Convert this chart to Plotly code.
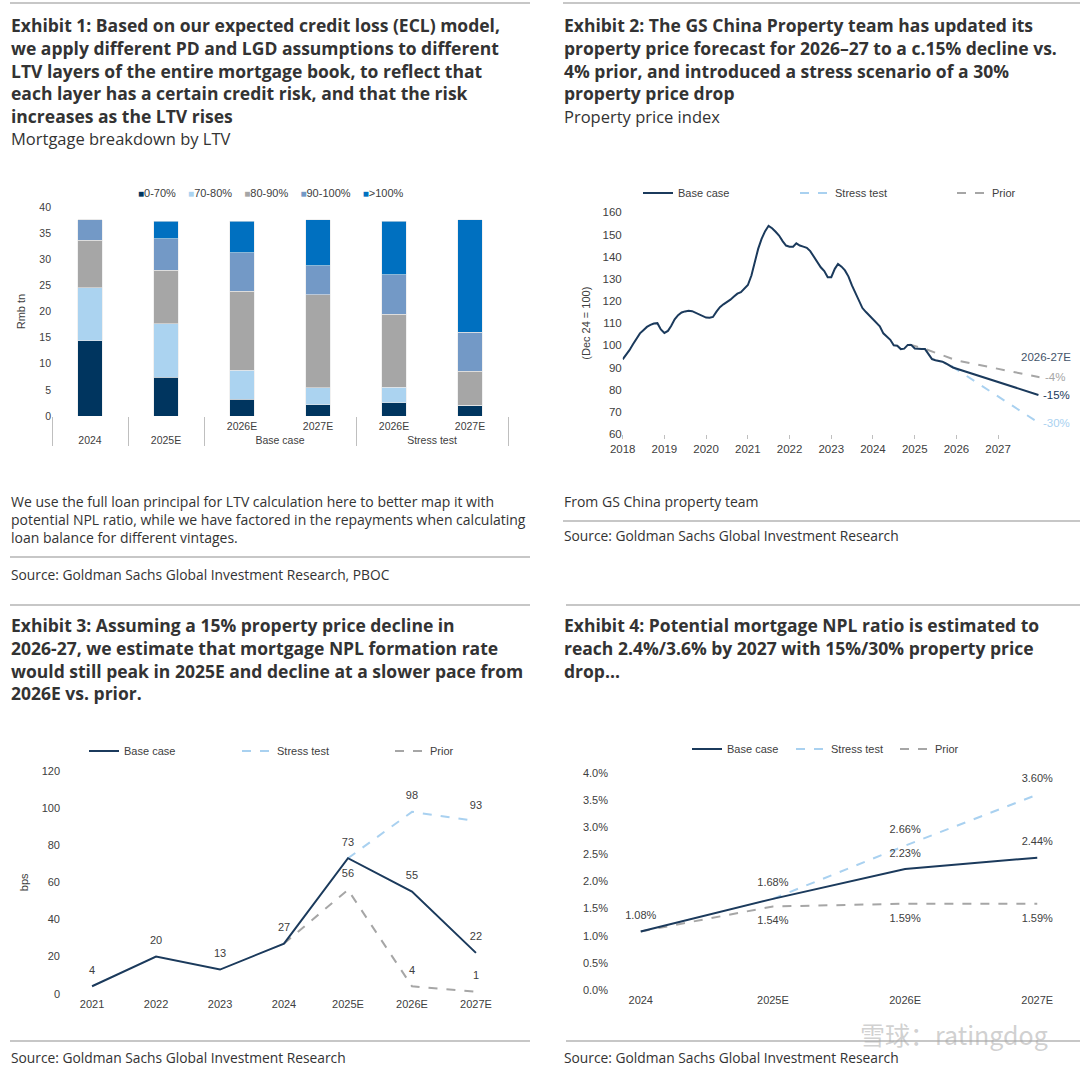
import plotly.graph_objects as go
import pandas as pd

W, H = 1080, 1072

# ---------------- Exhibit 1: mortgage breakdown by LTV (Rmb tn) ----------------
ltv_group = ["2024", "2025E", "Base case", "Base case", "Stress test", "Stress test"]
ltv_year = [" ", " ", "2026E", "2027E", "2026E", "2027E"]
ltv_bands = ["0-70%", "70-80%", "80-90%", "90-100%", ">100%"]
ltv_0_70 = [14.4, 7.4, 3.2, 2.2, 2.55, 2.1]
ltv_70_80 = [10.1, 10.3, 5.6, 3.2, 3.0, 0.0]
ltv_80_90 = [9.1, 10.2, 15.1, 17.8, 13.95, 6.5]
ltv_90_100 = [4.0, 6.0, 7.3, 5.6, 7.5, 7.4]
ltv_over_100 = [0.0, 3.4, 6.1, 8.8, 10.3, 21.6]

# ---------------- Exhibit 2: property price index (Dec 24 = 100) ----------------
ppi_start = "2018-01-01"
ppi_hist = [
    93.7, 95.6, 97.8, 100.5, 103.0, 105.4, 106.8, 108.3, 109.2, 109.8, 110.0, 107.2,   # 2018
    105.6, 106.5, 108.7, 111.7, 113.6, 114.8, 115.3, 115.6, 115.4, 114.6, 113.8, 113.0,  # 2019
    112.5, 112.4, 112.8, 115.2, 117.2, 118.5, 119.4, 120.6, 122.0, 123.3, 124.0, 125.7,  # 2020
    127.2, 131.5, 137.5, 143.5, 148.0, 151.5, 153.9, 152.8, 151.2, 149.5, 147.0, 145.0,  # 2021
    144.5, 144.5, 146.0, 145.0, 144.5, 144.0, 142.5, 140.0, 138.0, 135.2, 133.5, 130.7,  # 2022
    130.7, 134.5, 136.7, 135.5, 133.8, 131.0, 127.0, 123.5, 119.5, 116.8, 115.0, 113.3,  # 2023
    112.0, 110.2, 108.6, 105.4, 103.9, 102.5, 100.0, 99.8, 98.3, 98.5, 100.2, 100.2,     # 2024
    98.6, 98.3, 98.3, 98.3, 96.0, 93.8, 93.3, 93.0, 92.6, 91.8, 91.0, 90.0,              # 2025
]
base_fc_dates = ["2027-12-20"]
base_fc_values = [77.6]
stress_dates = ["2025-11-20", "2027-12-20"]
stress_values = [90.6, 65.1]
prior_dates = ["2024-11-15", "2025-04-01", "2026-01-01", "2027-12-31"]
prior_values = [100.4, 98.4, 93.2, 85.6]
end_labels = {"prior": "-4%", "base": "-15%", "stress": "-30%"}
period_label = "2026-27E"

# ---------------- Exhibit 3: mortgage NPL formation rate (bps) ----------------
npl_years = ["2021", "2022", "2023", "2024", "2025E", "2026E", "2027E"]
npl_base = [4, 20, 13, 27, 73, 55, 22]
npl_stress_years = ["2025E", "2026E", "2027E"]
npl_stress = [73, 98, 93]
npl_prior_years = ["2024", "2025E", "2026E", "2027E"]
npl_prior = [27, 56, 4, 1]

# ---------------- Exhibit 4: mortgage NPL ratio (%) ----------------
ratio_years = ["2024", "2025E", "2026E", "2027E"]
ratio_base = [1.08, 1.68, 2.23, 2.44]
ratio_stress_years = ["2025E", "2026E", "2027E"]
ratio_stress = [1.68, 2.66, 3.60]
ratio_prior = [1.08, 1.54, 1.59, 1.59]

# ---------------- styling ----------------
NAVY = "#1b3a5c"
LIGHT = "#a9d1f0"
GREY = "#a6a6a6"
BAR_COLORS = ["#00355f", "#abd3f0", "#a6a6a6", "#7399c6", "#0070c0"]
TXT = "#333333"
AX = "#404040"
ARIAL = "Liberation Sans, Arial, sans-serif"
HEAD = "Open Sans, Roboto, sans-serif"
LINEC = "#bfbfbf"


def px(x):
    return x / W


def py(y):
    return 1 - y / H


fig = go.Figure()

# Exhibit 1 bars
for name, vals, col in zip(ltv_bands, [ltv_0_70, ltv_70_80, ltv_80_90, ltv_90_100, ltv_over_100], BAR_COLORS):
    fig.add_trace(go.Bar(
        x=[ltv_group, ltv_year], y=vals, name=name, marker=dict(color=col, line=dict(color="#e8e8e8", width=0.6)),
        width=0.32, xaxis="x", yaxis="y", showlegend=False,
    ))

# Exhibit 2 lines
hist_dates = list(pd.date_range(ppi_start, periods=len(ppi_hist), freq="MS").strftime("%Y-%m-%d"))
base_dates = hist_dates + base_fc_dates
base_vals = ppi_hist + base_fc_values
fig.add_trace(go.Scatter(x=base_dates, y=base_vals, mode="lines", name="Base case",
                         line=dict(color=NAVY, width=2), xaxis="x2", yaxis="y2", legend="legend2", zorder=3))
fig.add_trace(go.Scatter(x=stress_dates, y=stress_values, mode="lines", name="Stress test",
                         line=dict(color=LIGHT, width=2, dash="dash"), xaxis="x2", yaxis="y2", legend="legend2", zorder=2))
fig.add_trace(go.Scatter(x=prior_dates, y=prior_values, mode="lines", name="Prior",
                         line=dict(color=GREY, width=2, dash="dash"), xaxis="x2", yaxis="y2", legend="legend2", zorder=1))

# Exhibit 3 lines (transparent markers push the value labels away from the line)
LBL = dict(family=ARIAL, size=11, color=AX)
HIDDEN = dict(size=14, color="rgba(0,0,0,0)")
fig.add_trace(go.Scatter(x=npl_years, y=npl_base, mode="lines+markers+text", name="Base case", marker=HIDDEN,
                         text=[str(v) for v in npl_base], textposition="top center", textfont=LBL,
                         line=dict(color=NAVY, width=2), xaxis="x3", yaxis="y3", legend="legend3", zorder=3))
fig.add_trace(go.Scatter(x=npl_stress_years, y=npl_stress, mode="lines+markers+text", name="Stress test", marker=HIDDEN,
                         text=[""] + [str(v) for v in npl_stress[1:]], textposition="top center", textfont=LBL,
                         line=dict(color=LIGHT, width=2, dash="dash"), xaxis="x3", yaxis="y3", legend="legend3", zorder=2))
fig.add_trace(go.Scatter(x=npl_prior_years, y=npl_prior, mode="lines+markers+text", name="Prior", marker=HIDDEN,
                         text=[""] + [str(v) for v in npl_prior[1:]], textposition="top center", textfont=LBL,
                         line=dict(color=GREY, width=2, dash="dash"), xaxis="x3", yaxis="y3", legend="legend3", zorder=1))

# Exhibit 4 lines
fig.add_trace(go.Scatter(x=ratio_years, y=ratio_base, mode="lines+markers+text", name="Base case", marker=HIDDEN,
                         text=[f"{v:.2f}%" for v in ratio_base], textposition="top center", textfont=LBL,
                         line=dict(color=NAVY, width=2), xaxis="x4", yaxis="y4", legend="legend4", zorder=3))
fig.add_trace(go.Scatter(x=ratio_stress_years, y=ratio_stress, mode="lines+markers+text", name="Stress test", marker=HIDDEN,
                         text=[""] + [f"{v:.2f}%" for v in ratio_stress[1:]], textposition="top center", textfont=LBL,
                         line=dict(color=LIGHT, width=2, dash="dash"), xaxis="x4", yaxis="y4", legend="legend4", zorder=2))
fig.add_trace(go.Scatter(x=ratio_years, y=ratio_prior, mode="lines+markers+text", name="Prior", marker=HIDDEN,
                         text=[""] + [f"{v:.2f}%" for v in ratio_prior[1:]], textposition="bottom center", textfont=LBL,
                         line=dict(color=GREY, width=2, dash="dash"), xaxis="x4", yaxis="y4", legend="legend4", zorder=1))

tickf = dict(family=ARIAL, size=11, color=AX)
tickf1 = dict(family=ARIAL, size=10.5, color=AX)
tickf2 = dict(family=ARIAL, size=11.5, color=AX)
leg_common = dict(orientation="h", yanchor="middle", xanchor="left", bgcolor="rgba(0,0,0,0)",
                  font=dict(family=ARIAL, size=11, color=AX), itemwidth=30, traceorder="normal")

fig.update_layout(
    template="none", hovermode=False,
    width=W, height=H, margin=dict(l=0, r=0, t=0, b=0, autoexpand=False),
    paper_bgcolor="white", plot_bgcolor="white", barmode="stack",
    font=dict(family=ARIAL, color=AX),
    xaxis=dict(domain=[px(52), px(508)], anchor="y", type="multicategory", showline=True, linecolor=LINEC,
               showdividers=True, dividercolor=LINEC, dividerwidth=1, tickfont=tickf1, showgrid=False,
               automargin=False, ticks=""),
    yaxis=dict(domain=[py(416), py(207)], anchor="x", range=[0, 40], dtick=5, showgrid=False, zeroline=False,
               automargin=False, ticks="", showline=False,
               tickfont=tickf1, title=dict(text="Rmb tn", font=dict(family=ARIAL, size=11, color=AX), standoff=11)),
    xaxis2=dict(domain=[px(622.7), px(1039.7)], anchor="y2", type="date", range=["2018-01-01", "2027-12-31"],
                dtick="M12", tickformat="%Y", ticks="outside", ticklen=4, tickcolor=LINEC, showline=True,
                linecolor=LINEC, showgrid=False, tickfont=tickf2, automargin=False),
    yaxis2=dict(domain=[py(434), py(212.3)], anchor="x2", range=[60, 160], dtick=10, showgrid=False,
                zeroline=False, tickfont=tickf2, automargin=False, ticks="", showline=False,
                title=dict(text="(Dec 24 = 100)", font=dict(family=ARIAL, size=11, color=AX), standoff=9)),
    xaxis3=dict(domain=[px(61), px(507)], anchor="y3", type="category", showline=True, linecolor=LINEC,
                showgrid=False, tickfont=tickf, automargin=False, ticks=""),
    yaxis3=dict(domain=[py(993.7), py(771)], anchor="x3", range=[0, 120], dtick=20, showgrid=False,
                zeroline=False, tickfont=tickf, automargin=False, ticks="", showline=False,
                title=dict(text="bps", font=dict(family=ARIAL, size=11, color=AX), standoff=10)),
    xaxis4=dict(domain=[px(609), px(1069)], anchor="y4", type="category", showline=True, linecolor=LINEC,
                showgrid=False, tickfont=tickf, automargin=False, ticks=""),
    yaxis4=dict(domain=[py(990), py(773)], anchor="x4", range=[0, 4], dtick=0.5, tickformat=".1f",
                ticksuffix="%", showgrid=False, zeroline=False, tickfont=tickf, automargin=False, ticks="",
                showline=False),
    legend2=dict(**leg_common, x=px(638), y=py(193), entrywidth=112),
    legend3=dict(**leg_common, x=px(84), y=py(751), entrywidth=108),
    legend4=dict(**leg_common, x=px(687), y=py(749), entrywidth=59),
)

# Exhibit 1 legend (compact key built from the band names and colours)
key = "\u00a0\u00a0\u00a0\u00a0".join(
    f"<span style='color:{c};font-size:10px'>■</span>{n}" for n, c in zip(ltv_bands, BAR_COLORS))
fig.add_annotation(xref="paper", yref="paper", x=px(271), y=py(193), xanchor="center", yanchor="middle",
                   text=key, showarrow=False, font=dict(family=ARIAL, size=11, color=AX))

# end labels on exhibit 2
lab_font = dict(family=ARIAL, size=11.5)
fig.add_annotation(x=prior_dates[-1], y=prior_values[-1], xref="x2", yref="y2", text=end_labels["prior"],
                   showarrow=False, xanchor="left", xshift=3, font=dict(**lab_font, color=GREY))
fig.add_annotation(x=base_dates[-1], y=base_vals[-1], xref="x2", yref="y2", text=end_labels["base"],
                   showarrow=False, xanchor="left", xshift=3, font=dict(**lab_font, color=NAVY))
fig.add_annotation(x=stress_dates[-1], y=stress_values[-1], xref="x2", yref="y2", text=end_labels["stress"],
                   showarrow=False, xanchor="left", xshift=3, font=dict(**lab_font, color=LIGHT))
fig.add_annotation(x=prior_dates[-1], y=prior_values[-1], xref="x2", yref="y2", text=period_label,
                   showarrow=False, xanchor="left", xshift=-21, yshift=20, font=dict(**lab_font, color="#44546a"))


def add_text(x, y_top, text, size, color=TXT, family=HEAD):
    fig.add_annotation(xref="paper", yref="paper", x=px(x), y=py(y_top), xanchor="left", yanchor="top",
                       text=text, showarrow=False, align="left", font=dict(size=size, color=color, family=family))


add_text(9, 11, "<b>Exhibit 1: Based on our expected credit loss (ECL) model,<br>we apply different PD and LGD "
         "assumptions to different<br>LTV layers of the entire mortgage book, to reflect that<br>each layer has a "
         "certain credit risk, and that the risk<br>increases as the LTV rises</b>", 17.5)
add_text(9, 125, "Mortgage breakdown by LTV", 16.5)
add_text(9, 489.5, "We use the full loan principal for LTV calculation here to better map it with<br>potential NPL "
         "ratio, while we have factored in the repayments when calculating<br>loan balance for different vintages.", 14)
add_text(9, 562.5, "Source: Goldman Sachs Global Investment Research, PBOC", 13.8)

add_text(562, 11, "<b>Exhibit 2: The GS China Property team has updated its<br>property price forecast for 2026–27 "
         "to a c.15% decline vs.<br>4% prior, and introduced a stress scenario of a 30%<br>property price drop</b>", 17.5)
add_text(562, 102.5, "Property price index", 16.5)
add_text(562, 489.5, "From GS China property team", 14)
add_text(562, 524.5, "Source: Goldman Sachs Global Investment Research", 13.8)

add_text(9, 611, "<b>Exhibit 3: Assuming a 15% property price decline in<br>2026-27, we estimate that mortgage NPL "
         "formation rate<br>would still peak in 2025E and decline at a slower pace from<br>2026E vs. prior.</b>", 17.5)
add_text(9, 1045.5, "Source: Goldman Sachs Global Investment Research", 13.8)

add_text(562, 611, "<b>Exhibit 4: Potential mortgage NPL ratio is estimated to<br>reach 2.4%/3.6% by 2027 with "
         "15%/30% property price<br>drop...</b>", 17.5)
add_text(562, 1045.5, "Source: Goldman Sachs Global Investment Research", 13.8)

# watermark
fig.add_annotation(xref="paper", yref="paper", x=px(1050), y=py(1034), xanchor="right", yanchor="middle",
                   text="雪球：ratingdog", showarrow=False,
                   font=dict(family="Noto Sans CJK SC", size=25, color="rgba(170,170,170,0.55)"))

# separator rules
for (x0, x1, y) in [(10, 530, 3), (563, 1080, 3), (10, 530, 557), (563, 1080, 521),
                    (10, 530, 605), (566, 1080, 605), (10, 530, 1041), (566, 1080, 1041)]:
    fig.add_shape(type="line", xref="paper", yref="paper", x0=px(x0), x1=px(x1), y0=py(y), y1=py(y),
                  line=dict(color="#b5b5b5", width=1.5))

fig.write_html("out.html", config={"displayModeBar": False},
               post_script="document.body.style.margin='0px';")
